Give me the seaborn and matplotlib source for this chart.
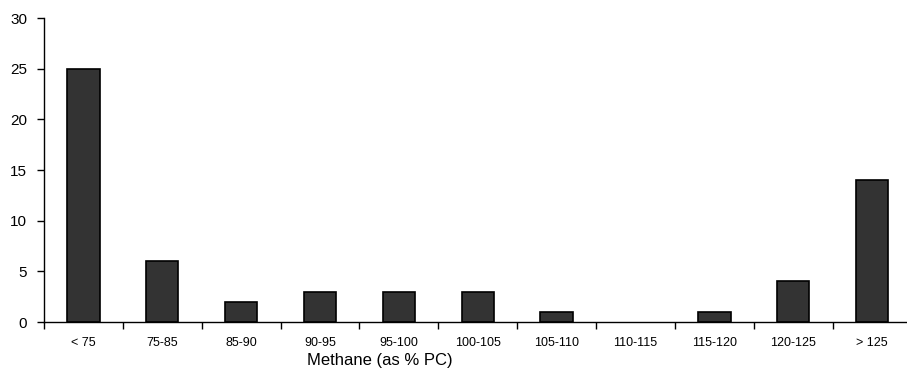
import numpy as np
import pandas as pd
import matplotlib
matplotlib.use("Agg")
import matplotlib.pyplot as plt
import seaborn as sns

# data
categories = ["< 75", "75-85", "85-90", "90-95", "95-100", "100-105",
              "105-110", "110-115", "115-120", "120-125", "> 125"]
counts = [25, 6, 2, 3, 3, 3, 1, 0, 1, 4, 14]

df = pd.DataFrame({"range": categories, "count": counts})

sns.set_style("ticks")
plt.rcParams["font.family"] = ["Liberation Sans", "DejaVu Sans"]

fig, ax = plt.subplots(figsize=(9.07, 3.76), dpi=100)
fig.subplots_adjust(left=0.0485, right=1.005, top=0.952, bottom=0.1436)

sns.barplot(data=df, x="range", y="count", color="#333333", width=0.41,
            edgecolor="black", linewidth=1.2, saturation=1, ax=ax)

# empty bins show nothing in the original
for patch, v in zip(ax.patches, counts):
    if v == 0:
        patch.set_linewidth(0)

ax.set_ylim(0, 30)
ax.set_yticks(range(0, 31, 5))
ax.set_xlim(-0.5, len(categories) - 0.5)

# tick marks between categories, like a spreadsheet chart
ax.set_xticks(np.arange(-0.5, len(categories), 1), minor=True)
ax.tick_params(axis="x", which="major", length=0, labelsize=9, pad=11,
               labelcolor="black")
ax.tick_params(axis="x", which="minor", length=5, width=1, color="black")
ax.tick_params(axis="y", length=5, width=1, color="black", labelsize=11,
               pad=7, labelcolor="black")

# the axis title sits left of centre in the original
ax.set_xlabel("Methane (as % PC)", fontsize=12, color="black", va="center")
ax.xaxis.set_label_coords(0.387, -0.128)
ax.set_ylabel("")
sns.despine(ax=ax)
for s in ["left", "bottom"]:
    ax.spines[s].set_color("black")
    ax.spines[s].set_linewidth(1)

fig.savefig("out.png", dpi=100)
